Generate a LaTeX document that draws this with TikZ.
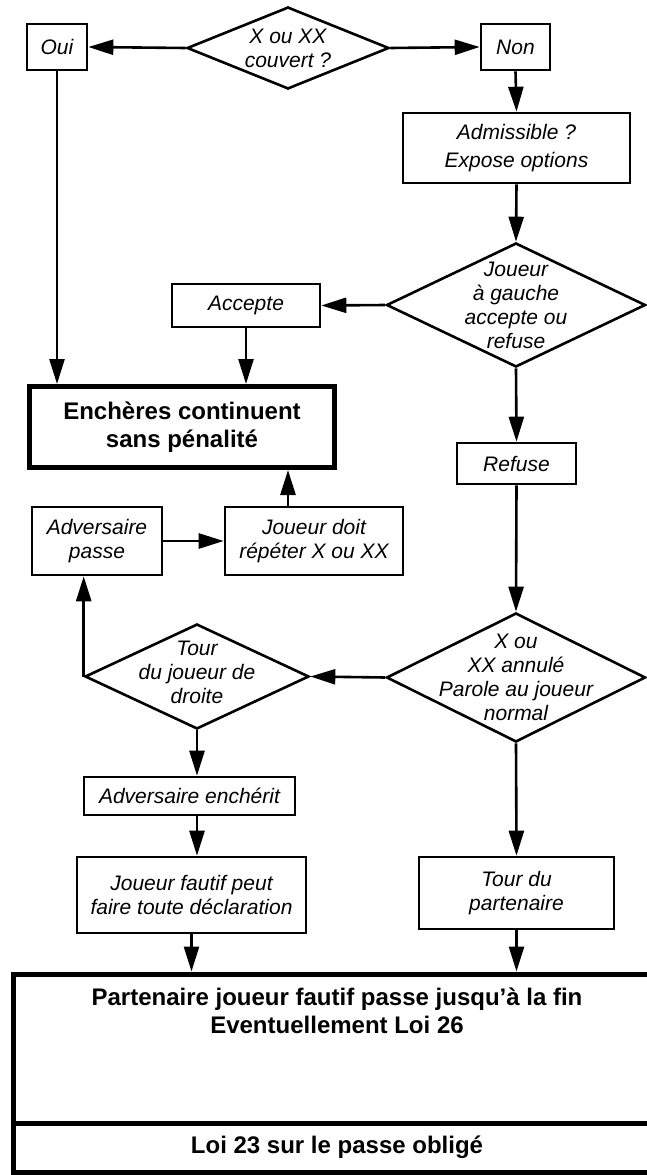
\documentclass[tikz,border=0pt]{standalone}
\usepackage{fontspec}
\setmainfont{Liberation Sans}
\usetikzlibrary{shapes.geometric,arrows.meta}
\tikzset{
  box/.style = {draw, line width=2.6pt, inner sep=0pt, align=center,
    font=\fontsize{21}{24}\selectfont\itshape},
  heavybox/.style = {draw, line width=5pt, inner sep=0pt, align=center,
    font=\fontsize{24}{28}\selectfont\bfseries},
  heavytext/.style = {inner sep=0pt, align=center,
    font=\fontsize{24}{28}\selectfont\bfseries},
  decision/.style = {draw, diamond, line width=2.6pt, inner sep=0pt},
  question/.style = {inner sep=0pt, align=center,
    font=\fontsize{21}{24}\selectfont\itshape},
  flow/.style = {line width=2.6pt, -{Triangle[length=25pt,width=15pt]}}
}

\begin{document}
\begin{tikzpicture}[x=1pt,y=-1pt]
  \useasboundingbox (0,0) rectangle (646,1175);
  %
  \node[decision, minimum width=202pt, minimum height=82pt] (couvert) at (288,48) {};
  \node[question] (qcouvert) at (couvert) {X ou XX\\couvert ?};
  \node[box, minimum width=60pt, minimum height=46pt] (oui) at (57,47) {Oui};
  \node[box, minimum width=69pt, minimum height=46pt] (non) at (515.5,47) {Non};
  \node[box, minimum width=227pt, minimum height=70pt, font=\fontsize{21}{28}\selectfont\itshape] (admis) at (516.5,148) {Admissible ?\\Expose options};
  \node[decision, minimum width=259pt, minimum height=124pt] (gauche) at (516,305) {};
  \node[question] (qgauche) at (gauche) {Joueur\\à gauche\\accepte ou\\refuse};
  \node[box, minimum width=148pt, minimum height=43pt] (accepte) at (246,305.5) {Accepte};
  \node[heavybox, minimum width=305pt, minimum height=81pt] (continuent) at (182,427) {Enchères continuent\\sans pénalité};
  \node[box, minimum width=119pt, minimum height=41pt] (refuse) at (516.5,463.5) {Refuse};
  \node[box, minimum width=130pt, minimum height=68pt] (advpasse) at (97,541) {Adversaire\\passe};
  \node[box, minimum width=178pt, minimum height=68pt] (repeter) at (314,541) {Joueur doit\\répéter X ou XX};
  \node[decision, minimum width=259pt, minimum height=129pt] (annule) at (516,677.5) {};
  \node[question] (qannule) at (annule) {X ou\\XX annulé\\Parole au joueur\\normal};
  \node[decision, minimum width=224pt, minimum height=105pt] (droite) at (197,676.5) {};
  \node[question] (qdroite) at ([yshift=4pt]droite.center) {Tour\\du joueur de\\droite};
  \node[box, minimum width=211pt, minimum height=38pt] (advench) at (189.5,796) {Adversaire enchérit};
  \node[box, minimum width=229pt, minimum height=76pt] (fautif) at (191.5,895) {Joueur fautif peut\\faire toute déclaration};
  \node[box, minimum width=195pt, minimum height=72pt] (partenaire) at (516.5,893) {Tour du\\partenaire};
  \node[heavybox, minimum width=647pt, minimum height=149pt] (fin) at (337,1048.5) {};
  \node[heavytext, anchor=north] (tfin) at ([yshift=-16pt]fin.north) {Partenaire joueur fautif passe jusqu’à la fin\\Eventuellement Loi 26};
  \node[heavybox, minimum width=647pt, minimum height=49pt] (loi) at (337,1147.5) {Loi 23 sur le passe obligé};
  %
  \draw[flow] (couvert.west) -- (oui.east);
  \draw[flow] (couvert.east) -- (non.west);
  \draw[flow] (non.south) -- (admis.north);
  \draw[flow] (admis.south) -- (gauche.north);
  \draw[flow] (gauche.west) -- (accepte.east);
  \draw[flow] (accepte.south) -- (accepte.south |- continuent.north);
  \draw[flow] (oui.south) -- (oui.south |- continuent.north);
  \draw[flow] (gauche.south) -- (refuse.north);
  \draw[flow] (refuse.south) -- (annule.north);
  \draw[flow] (annule.west) -- (droite.east);
  \draw[flow] (droite.west) -- (droite.west |- advpasse.south);
  \draw[flow] (advpasse.east) -- (repeter.west);
  \draw[flow] ([xshift=-26pt]repeter.north) -- ([xshift=-26pt]repeter.north |- continuent.south);
  \draw[flow] (droite.south) -- (droite.south |- advench.north);
  \draw[flow] (droite.south |- advench.south) -- (droite.south |- fautif.north);
  \draw[flow] (annule.south) -- (partenaire.north);
  \draw[flow] (fautif.south) -- (fautif.south |- fin.north);
  \draw[flow] (partenaire.south) -- (partenaire.south |- fin.north);
\end{tikzpicture}
\end{document}
